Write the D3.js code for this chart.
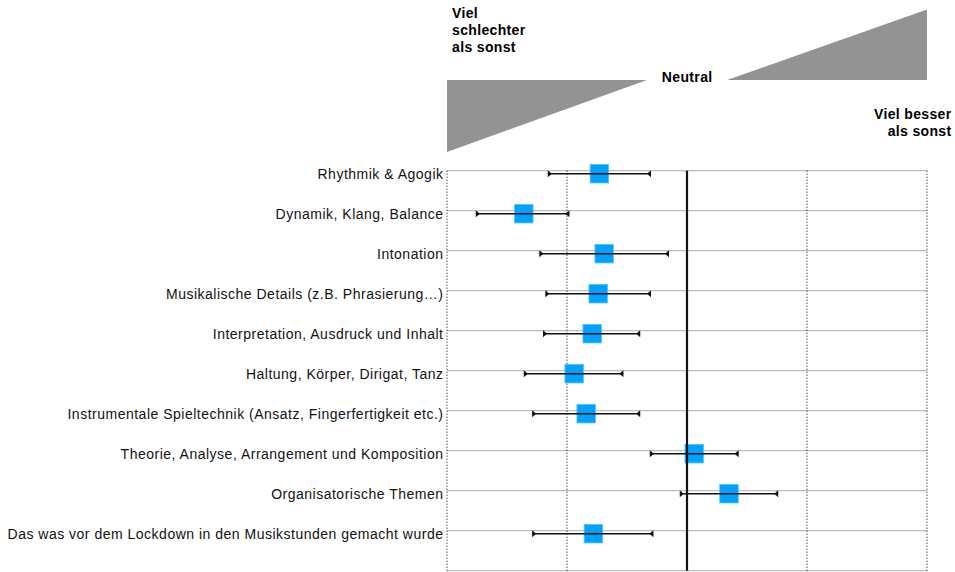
<!DOCTYPE html>
<html>
<head>
<meta charset="utf-8">
<script src="https://cdn.jsdelivr.net/npm/d3@7"></script>
<style>
  html, body { margin: 0; padding: 0; background: #ffffff; }
  svg { display: block; }
  text { font-family: "Liberation Sans", Helvetica, Arial, sans-serif; }
</style>
</head>
<body>
<svg id="chart" width="955" height="572"></svg>
<script>
// ---- data ----
const categories = [
  "Rhythmik & Agogik",
  "Dynamik, Klang, Balance",
  "Intonation",
  "Musikalische Details (z.B. Phrasierung…)",
  "Interpretation, Ausdruck und Inhalt",
  "Haltung, Körper, Dirigat, Tanz",
  "Instrumentale Spieltechnik (Ansatz, Fingerfertigkeit etc.)",
  "Theorie, Analyse, Arrangement und Komposition",
  "Organisatorische Themen",
  "Das was vor dem Lockdown in den Musikstunden gemacht wurde"
];
const means = [-0.73, -1.36, -0.69, -0.74, -0.79, -0.94, -0.84, 0.06, 0.35, -0.78];
const lower = [-1.16, -1.76, -1.23, -1.18, -1.20, -1.36, -1.29, -0.31, -0.06, -1.29];
const upper = [-0.30, -0.98, -0.15, -0.30, -0.39, -0.53, -0.39, 0.43, 0.76, -0.28];
const xTicks = [-2, -1, 0, 1, 2];
const leftHeader = ["Viel", "schlechter", "als sonst"];
const neutralHeader = "Neutral";
const rightHeader = ["Viel besser", "als sonst"];

// ---- layout ----
const svg = d3.select("#chart");
const plotTop = 170.7, plotBottom = 570.7;
const x = d3.scaleLinear().domain([-2, 2]).range([447, 927]);
const y = d3.scaleBand().domain(categories).range([plotTop, plotBottom]).padding(0);
const markOffset = 3;
const markSize = 18.5;

const rows = categories.map((c, i) => ({ c, m: means[i], lo: lower[i], hi: upper[i] }));

// header triangles
const tri = svg.append("g").attr("fill", "#939393");
tri.append("path").attr("d", d3.line()([
  [x(-2), 80], [x(0) - 40, 80], [x(-2), 152]
]) + "Z");
tri.append("path").attr("d", d3.line()([
  [x(0) + 40, 80], [x(2), 80], [x(2), 9.5]
]) + "Z");

// header text
const hl = svg.append("text").attr("font-weight", "bold").attr("font-size", 14)
  .attr("letter-spacing", 0.35).attr("fill", "#000").attr("x", 452).attr("y", 17.5);
leftHeader.forEach((t, i) => hl.append("tspan").attr("x", 452).attr("dy", i === 0 ? 0 : 17.2).text(t));
svg.append("text").attr("font-weight", "bold").attr("font-size", 14).attr("letter-spacing", 0.35)
  .attr("fill", "#000").attr("x", x(0) + 0.2).attr("y", 81.5).attr("text-anchor", "middle").text(neutralHeader);
const hr = svg.append("text").attr("font-weight", "bold").attr("font-size", 14)
  .attr("letter-spacing", 0.35).attr("fill", "#000").attr("text-anchor", "end")
  .attr("x", 951.5).attr("y", 118.5);
rightHeader.forEach((t, i) => hr.append("tspan").attr("x", 951.5).attr("dy", i === 0 ? 0 : 17).text(t));

// horizontal gridlines
const gridY = categories.map(c => y(c)).concat([plotBottom]);
svg.append("g").selectAll("line").data(gridY).join("line")
  .attr("x1", x(-2)).attr("x2", x(2))
  .attr("y1", d => d).attr("y2", d => d)
  .attr("stroke", "#bdbdbd").attr("stroke-width", 1.3);

// vertical gridlines
svg.append("g").selectAll("line").data(xTicks.filter(t => t !== 0)).join("line")
  .attr("x1", d => x(d)).attr("x2", d => x(d))
  .attr("y1", plotTop).attr("y2", plotBottom)
  .attr("stroke", "#000").attr("stroke-width", 1)
  .attr("stroke-dasharray", "1,2");

// category labels
svg.append("g").selectAll("text").data(categories).join("text")
  .attr("x", 443.5).attr("y", d => y(d) + 8.5)
  .attr("text-anchor", "end").attr("font-size", 14).attr("letter-spacing", 0.5)
  .attr("fill", "#111")
  .text(d => d);

// markers
svg.append("g").selectAll("rect").data(rows).join("rect")
  .attr("x", d => x(d.m) - markSize / 2)
  .attr("y", d => y(d.c) + markOffset - markSize / 2)
  .attr("width", markSize).attr("height", markSize)
  .attr("fill", "#00a2ff").attr("stroke", "#55c0ff").attr("stroke-width", 0.8);

// error bars
const eb = svg.append("g");
eb.selectAll("line").data(rows).join("line")
  .attr("x1", d => x(d.lo)).attr("x2", d => x(d.hi))
  .attr("y1", d => y(d.c) + markOffset).attr("y2", d => y(d.c) + markOffset)
  .attr("stroke", "#111").attr("stroke-width", 1.4);
eb.selectAll("path.capL").data(rows).join("path").attr("class", "capL")
  .attr("d", d => {
    const px = x(d.lo), py = y(d.c) + markOffset;
    return d3.line()([[px, py - 3.5], [px, py + 3.5], [px + 4, py]]) + "Z";
  }).attr("fill", "#111");
eb.selectAll("path.capR").data(rows).join("path").attr("class", "capR")
  .attr("d", d => {
    const px = x(d.hi), py = y(d.c) + markOffset;
    return d3.line()([[px, py - 3.5], [px, py + 3.5], [px - 4, py]]) + "Z";
  }).attr("fill", "#111");

// neutral line
svg.append("line")
  .attr("x1", x(0)).attr("x2", x(0))
  .attr("y1", plotTop).attr("y2", plotBottom)
  .attr("stroke", "#111").attr("stroke-width", 2.2);
</script>
</body>
</html>
